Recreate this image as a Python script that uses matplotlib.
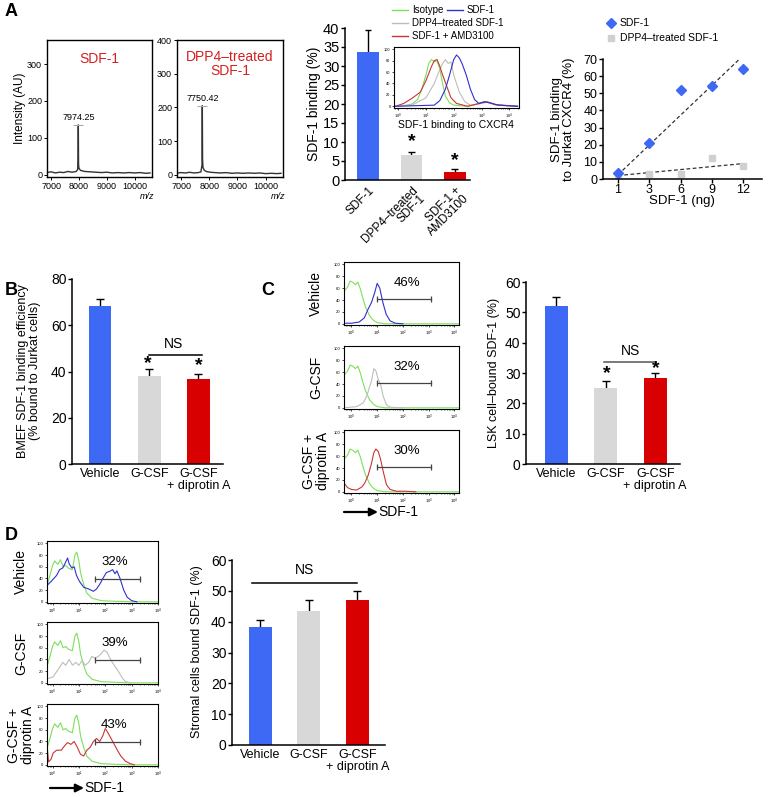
import matplotlib
matplotlib.use('Agg')
import matplotlib.pyplot as plt
import numpy as np

plt.rcParams['font.family'] = ['Liberation Sans', 'DejaVu Sans']

W, H = 768, 797

BLUE = "#3D69F5"
GRAY = "#D8D8D8"
RED = "#D80000"
TXT_RED = "#D42020"
H_GREEN = "#7BE05A"
H_BLUE = "#3030D0"
H_GRAY = "#BDBDBD"
H_RED = "#CC3535"

# ---------------- data ----------------
# A: mass spectra
ms1_mz = [6850, 7000, 7150, 7300, 7450, 7600, 7750, 7900, 7950, 7965, 7974, 7983, 7995,
          8050, 8200, 8400, 8600, 8800, 9000, 9200, 9400, 9600, 9800, 10000, 10200, 10400, 10550]
ms1_int = [6, 8, 5, 7, 6, 9, 7, 9, 14, 40, 135, 30, 18, 12, 9, 8, 7, 6, 7, 5, 6, 5, 6, 5, 6, 4, 5]
ms1_peak = (7974.25, 135)
ms2_mz = [6850, 7000, 7150, 7300, 7450, 7600, 7700, 7740, 7750, 7760, 7775, 7820, 7900,
          8050, 8200, 8400, 8600, 8800, 9000, 9200, 9400, 9600, 9800, 10000, 10200, 10400, 10550]
ms2_int = [6, 7, 6, 8, 6, 7, 9, 30, 205, 45, 22, 14, 10, 8, 7, 6, 7, 5, 6, 5, 6, 5, 6, 4, 5, 4, 5]
ms2_peak = (7750.42, 205)

# A: binding bars
a_labels = ["SDF-1", "DPP4–treated\nSDF-1", "SDF-1 +\nAMD3100"]
a_vals = [33.8, 6.7, 2.0]
a_errs = [39.6, 7.5, 2.8]

# A: inset flow histogram (log10 fluorescence, % of max)
ins_green_x = [-0.1, 0.3, 0.5, 0.7, 0.85, 1.0, 1.1, 1.2, 1.3, 1.4, 1.5, 1.6, 1.7, 1.85, 2.0, 2.5, 2.9, 3.1, 3.3, 3.6, 4.3]
ins_green_y = [0, 2, 4, 12, 30, 55, 75, 82, 78, 80, 65, 40, 18, 6, 2, 0, 4, 8, 6, 2, 0]
ins_red_x = [-0.1, 0.2, 0.5, 0.8, 1.0, 1.2, 1.3, 1.4, 1.5, 1.6, 1.75, 1.9, 2.1, 2.5, 3.0, 3.2, 3.5, 4.3]
ins_red_y = [0, 5, 14, 25, 45, 70, 80, 82, 70, 55, 35, 15, 5, 0, 6, 8, 3, 0]
ins_gray_x = [-0.1, 0.5, 1.0, 1.3, 1.5, 1.6, 1.7, 1.8, 1.9, 2.0, 2.2, 2.4, 2.6, 3.0, 3.2, 3.5, 4.3]
ins_gray_y = [0, 2, 15, 40, 65, 75, 82, 75, 78, 55, 25, 8, 2, 5, 7, 2, 0]
ins_blue_x = [-0.1, 1.3, 1.5, 1.7, 1.85, 2.0, 2.1, 2.2, 2.3, 2.45, 2.6, 2.75, 2.9, 3.1, 3.3, 3.6, 4.3]
ins_blue_y = [0, 2, 10, 30, 55, 82, 90, 85, 75, 55, 30, 12, 5, 8, 6, 2, 0]

# A: dose response
ng_labels = ["1", "3", "6", "9", "12"]
sdf_binding = [3.5, 21, 52, 54, 64]
dpp4_binding = [2.5, 3, 3, 12.5, 7.5]
sdf_fit = [2.5, 72]
dpp4_fit = [2, 9]

# B
grp_labels = ["Vehicle", "G-CSF", "G-CSF\n+ diprotin A"]
b_vals = [68.4, 38.2, 36.6]
b_errs = [71.3, 41.2, 39.0]

# C: LSK histograms
c_green_x = [-0.29, -0.15, -0.05, 0.05, 0.15, 0.25, 0.35, 0.45, 0.55, 0.7, 0.85, 1.0, 1.3, 4.2]
c_green_y = [55, 62, 72, 70, 66, 70, 58, 42, 28, 14, 6, 2, 0, 0]
c_blue_x = [-0.29, 0.0, 0.3, 0.5, 0.65, 0.78, 0.9, 1.0, 1.1, 1.22, 1.35, 1.5, 1.7, 2.0]
c_blue_y = [1, 1, 3, 10, 25, 36, 52, 68, 60, 36, 16, 5, 1, 0]
c_gray_x = [-0.29, 0.2, 0.45, 0.6, 0.7, 0.78, 0.87, 0.95, 1.04, 1.13, 1.23, 1.36, 1.5, 2.0]
c_gray_y = [0, 2, 8, 20, 35, 45, 66, 62, 48, 40, 20, 5, 1, 0]
c_red_x = [-0.29, -0.15, 0.0, 0.2, 0.4, 0.52, 0.65, 0.78, 0.87, 0.95, 1.04, 1.13, 1.23, 1.36, 1.5, 1.75, 2.1, 2.5]
c_red_y = [15, 7, 4, 3, 8, 15, 28, 48, 66, 72, 68, 55, 35, 12, 4, 1, 1, 0]
c_pcts = ["46%", "32%", "30%"]
c_vals = [52.1, 25.2, 28.2]
c_errs = [54.9, 27.5, 29.9]

# D: stromal histograms
d_green_x = [-0.21, -0.1, 0, 0.08, 0.2, 0.3, 0.4, 0.5, 0.62, 0.75, 0.85, 0.92, 1.0, 1.06, 1.18, 1.3, 1.5, 1.85, 2.3, 3.0, 4.0]
d_green_y = [28, 45, 62, 70, 64, 72, 60, 62, 57, 55, 80, 85, 70, 50, 30, 15, 6, 2, 1, 0, 0]
d_blue_x = [-0.21, -0.05, 0.15, 0.27, 0.39, 0.5, 0.57, 0.63, 0.73, 0.82, 0.91, 1.02, 1.18, 1.37, 1.55, 1.67,
            1.79, 1.91, 2.04, 2.16, 2.28, 2.37, 2.44, 2.56, 2.7, 2.83, 3.0, 3.2]
d_blue_y = [28, 35, 45, 55, 58, 68, 75, 65, 58, 60, 45, 35, 25, 22, 18, 22,
            30, 40, 50, 52, 55, 48, 53, 40, 20, 8, 2, 0]
d_gray_x = [-0.21, 0.02, 0.2, 0.39, 0.5, 0.63, 0.76, 0.88, 1.0, 1.12, 1.24, 1.37, 1.49, 1.61, 1.73, 1.85,
            1.95, 2.07, 2.2, 2.34, 2.49, 2.65, 2.77, 2.95]
d_gray_y = [7, 10, 22, 35, 30, 40, 30, 35, 30, 38, 30, 35, 45, 42, 45, 50,
            56, 52, 40, 30, 20, 8, 2, 0]
d_red_x = [-0.21, -0.15, -0.05, 0.02, 0.15, 0.33, 0.45, 0.57, 0.7, 0.82, 0.94, 1.06, 1.18, 1.3, 1.43, 1.55,
           1.67, 1.79, 1.91, 2.0, 2.1, 2.22, 2.34, 2.46, 2.59, 2.77, 2.95, 3.1]
d_red_y = [35, 5, 10, 20, 25, 25, 32, 38, 35, 40, 30, 18, 15, 25, 30, 40,
           45, 40, 50, 62, 55, 45, 35, 25, 15, 6, 2, 0]
d_pcts = ["32%", "39%", "43%"]
d_vals = [38.2, 43.6, 46.9]
d_errs = [40.4, 46.9, 50.1]

row_labels = ["Vehicle", "G-CSF", "G-CSF +\ndiprotin A"]

# ---------------- figure ----------------
fig = plt.figure(figsize=(W / 100, H / 100), dpi=100)
fig.patch.set_facecolor("white")


def px_axes(x0, y0, x1, y1):
    return fig.add_axes([x0 / W, 1 - y1 / H, (x1 - x0) / W, (y1 - y0) / H])


def bar_panel(ax, vals, errs, xlim, ylim, yticks, labels, fs=9, width=0.47):
    x = np.arange(len(vals))
    ax.bar(x, vals, width, color=[BLUE, GRAY, RED], zorder=2)
    ax.vlines(x, vals, errs, color="black", lw=1, zorder=1)
    ax.hlines(errs, x - 0.08, x + 0.08, color="black", lw=1, zorder=3)
    ax.set_xlim(*xlim)
    ax.set_ylim(*ylim)
    ax.set_yticks(yticks)
    ax.set_xticks(x)
    ax.set_xticklabels(labels, fontsize=fs, linespacing=1.0)
    ax.tick_params(axis="x", length=0, pad=3)
    ax.tick_params(axis="y", length=3, width=1, labelsize=10, pad=1)
    for s in ["top", "right"]:
        ax.spines[s].set_visible(False)
    for s in ["left", "bottom"]:
        ax.spines[s].set_linewidth(1.1)
    return x


def hist_panel(ax, curves, xlim, gate, pct):
    for xs, ys, c in curves:
        ax.plot(10 ** np.array(xs), ys, color=c, lw=0.8)
    ax.set_xscale("log")
    ax.set_xlim(10 ** xlim[0], 10 ** xlim[1])
    ax.set_ylim(-2, 104)
    ax.set_yticks([0, 20, 40, 60, 80, 100])
    ax.tick_params(labelsize=3, length=1.5, width=0.5, pad=1)
    ax.tick_params(which="minor", length=1, width=0.4)
    ax.set_xticks([1, 10, 100, 1000, 10000])
    for s in ax.spines.values():
        s.set_linewidth(0.8)
    g0, g1, gy = gate
    ax.plot([10 ** g0, 10 ** g1], [gy, gy], color="#444444", lw=0.9, marker="|", ms=4, mew=0.9)
    ax.text(10 ** pct[0], pct[1], pct[2], fontsize=9.5, ha="center", va="center")


# ---- A: mass spectra ----
for (x0, x1), mz, inten, peak, ylim, yt, title in [
        ((47, 152), ms1_mz, ms1_int, ms1_peak, (-6, 365), [0, 100, 200, 300], "SDF-1"),
        ((177, 283), ms2_mz, ms2_int, ms2_peak, (-6, 400), [0, 100, 200, 300, 400], "DPP4–treated\nSDF-1")]:
    ax = px_axes(x0, 40, x1, 177)
    ax.plot(mz, inten, color="#333333", lw=1.0)
    ax.hlines(peak[1], peak[0] - 180, peak[0] + 180, color="#AAAAAA", lw=0.8)
    ax.text(peak[0], peak[1] + 8, f"{peak[0]:.2f}", fontsize=6.5, ha="center", va="bottom")
    ax.set_xlim(6850, 10620)
    ax.set_ylim(*ylim)
    ax.set_yticks(yt)
    ax.set_xticks([7000, 8000, 9000, 10000])
    ax.tick_params(labelsize=6.5, length=2, width=0.7, pad=1.5)
    for s in ax.spines.values():
        s.set_linewidth(1.0)
    ax.text(0.5, 0.91 if "\n" not in title else 0.925, title, transform=ax.transAxes,
            color=TXT_RED, fontsize=10, ha="center", va="top", linespacing=0.95)

# ---- A: binding bars ----
ax = px_axes(345, 28, 470, 180)
xa = bar_panel(ax, a_vals, a_errs, (-0.53, 2.35), (0, 40), range(0, 41, 5), a_labels, fs=8.5, width=0.5)
ax.set_xticklabels(a_labels, fontsize=8.5, rotation=45, ha="right", rotation_mode="anchor",
                   linespacing=0.95)
ax.tick_params(axis="y", labelsize=10.5)
ax.text(xa[1], 10, "*", ha="center", va="center", fontsize=14, fontweight="bold")
ax.text(xa[2], 5, "*", ha="center", va="center", fontsize=14, fontweight="bold")

# inset histogram
ins = px_axes(394, 47, 519, 108)
for xs, ys, c in [(ins_green_x, ins_green_y, H_GREEN), (ins_gray_x, ins_gray_y, H_GRAY),
                  (ins_red_x, ins_red_y, H_RED), (ins_blue_x, ins_blue_y, H_BLUE)]:
    ins.plot(10 ** np.array(xs), ys, color=c, lw=0.8)
ins.set_xscale("log")
ins.set_xlim(10 ** -0.15, 10 ** 4.35)
ins.set_ylim(-3, 104)
ins.set_yticks([0, 20, 40, 60, 80, 100])
ins.set_xticks([1, 10, 100, 1000, 10000])
ins.tick_params(labelsize=2.8, length=1.5, width=0.5, pad=1)
ins.tick_params(which="minor", length=1, width=0.4)
for s in ins.spines.values():
    s.set_linewidth(0.8)

# ---- A: dose response ----
ax = px_axes(603, 59, 762, 179)
xi = np.arange(len(ng_labels))
ax.plot(xi[[0, -1]], sdf_fit, ls="--", color="#333333", lw=0.9, dashes=(3, 2))
ax.plot(xi[[0, -1]], dpp4_fit, ls="--", color="#333333", lw=0.9, dashes=(3, 2))
ax.plot(xi, dpp4_binding, ls="none", marker="s", ms=5, color="#D0D0D0")
ax.plot(xi, sdf_binding, ls="none", marker="D", ms=5, color=BLUE)
ax.set_xlim(-0.48, 4.6)
ax.set_ylim(0, 70)
ax.set_yticks(range(0, 71, 10))
ax.set_xticks(xi)
ax.set_xticklabels(ng_labels)
ax.tick_params(axis="y", labelsize=9, length=3, width=1, pad=1)
ax.tick_params(axis="x", labelsize=9, length=3, width=1, pad=0.5)
for s in ["top", "right"]:
    ax.spines[s].set_visible(False)
for s in ["left", "bottom"]:
    ax.spines[s].set_linewidth(1.1)

# ---- B ----
ax = px_axes(72, 279, 223, 464)
xb = bar_panel(ax, b_vals, b_errs, (-0.57, 2.5), (0, 80), [0, 20, 40, 60, 80], grp_labels, width=0.46)
ax.plot([xb[1], xb[2] + 0.07], [47, 47], color="black", lw=1.1)
ax.text((xb[1] + xb[2]) / 2, 49, "NS", ha="center", va="bottom", fontsize=10)
ax.text(xb[1] - 0.03, 43.5, "*", ha="center", va="center", fontsize=14, fontweight="bold")
ax.text(xb[2], 42.5, "*", ha="center", va="center", fontsize=14, fontweight="bold")

# ---- C histograms ----
c_tops = [262, 346, 430]
c_second = [(c_blue_x, c_blue_y, H_BLUE), (c_gray_x, c_gray_y, H_GRAY), (c_red_x, c_red_y, H_RED)]
for top, sec, pct in zip(c_tops, c_second, c_pcts):
    ax = px_axes(344, top, 459, top + 63)
    hist_panel(ax, [(c_green_x, c_green_y, H_GREEN), sec], (-0.29, 4.18), (1.0, 3.1, 41),
               (2.14, 68, pct))

# ---- C bars ----
ax = px_axes(526, 282, 680, 464)
xc = bar_panel(ax, c_vals, c_errs, (-0.61, 2.5), (0, 60), range(0, 61, 10), grp_labels, width=0.47)
ax.plot([xc[1] - 0.04, xc[2] + 0.02], [33.7, 33.7], color="#555555", lw=1.1)
ax.text((xc[1] + xc[2]) / 2, 35, "NS", ha="center", va="bottom", fontsize=10)
ax.text(xc[1] + 0.02, 29.8, "*", ha="center", va="center", fontsize=14, fontweight="bold")
ax.text(xc[2] + 0.01, 31.6, "*", ha="center", va="center", fontsize=14, fontweight="bold")

# ---- D histograms ----
d_tops = [541, 622, 704]
d_second = [(d_blue_x, d_blue_y, H_BLUE), (d_gray_x, d_gray_y, H_GRAY), (d_red_x, d_red_y, H_RED)]
for top, sec, pct in zip(d_tops, d_second, d_pcts):
    ax = px_axes(47, top, 158, top + 62)
    hist_panel(ax, [(d_green_x, d_green_y, H_GREEN), sec], (-0.21, 4.0), (1.6, 3.3, 39),
               (2.35, 68, pct))

# ---- D bars ----
ax = px_axes(232, 560, 385, 745)
xd = bar_panel(ax, d_vals, d_errs, (-0.58, 2.57), (0, 60), range(0, 61, 10), grp_labels, width=0.48)
ax.plot([xd[0] - 0.17, xd[2]], [52.7, 52.7], color="black", lw=1.1)
ax.text((xd[0] + xd[2]) / 2 - 0.08, 54.5, "NS", ha="center", va="bottom", fontsize=10)

# ---------------- overlay text in pixel coordinates ----------------
ov = fig.add_axes([0, 0, 1, 1])
ov.set_xlim(0, W)
ov.set_ylim(H, 0)
ov.axis("off")
ov.set_zorder(10)
ov.patch.set_alpha(0)

for lbl, (x, y) in zip("ABCD", [(5, 11), (5, 290), (261, 290), (5, 536)]):
    ov.text(x, y, lbl, fontsize=13, fontweight="bold", va="center", ha="left")

# axis titles
ov.text(20, 108, "Intensity (AU)", rotation=90, fontsize=8.5, ha="center", va="center")
ov.text(147, 196, "m/z", fontstyle="italic", fontsize=6.5, ha="center", va="center")
ov.text(278, 196, "m/z", fontstyle="italic", fontsize=6.5, ha="center", va="center")
ov.text(314, 104, "SDF-1 binding (%)", rotation=90, fontsize=10, ha="center", va="center")
ov.text(456, 125, "SDF-1 binding to CXCR4", fontsize=7.5, ha="center", va="center")
ov.text(563, 119, "SDF-1 binding\nto Jurkat CXCR4 (%)", rotation=90, fontsize=9.5,
        ha="center", va="center", linespacing=1.0)
ov.text(682, 201, "SDF-1 (ng)", fontsize=9.5, ha="center", va="center")
ov.text(29, 371, "BMEF SDF-1 binding efficiency\n(% bound to Jurkat cells)", rotation=90,
        fontsize=9, ha="center", va="center", linespacing=1.05)
ov.text(494, 373, "LSK cell–bound SDF-1 (%)", rotation=90, fontsize=9, ha="center", va="center")
ov.text(197, 652, "Stromal cells bound SDF-1 (%)", rotation=90, fontsize=9, ha="center", va="center")

# A legends
for (x0, y, col, lab) in [(392, 10, H_GREEN, "Isotype"), (447, 10, H_BLUE, "SDF-1"),
                          (392, 23, H_GRAY, "DPP4–treated SDF-1"), (392, 36, H_RED, "SDF-1 + AMD3100")]:
    ov.plot([x0, x0 + 16], [y, y], color=col, lw=1.0)
    ov.text(x0 + 20, y, lab, fontsize=7, va="center", ha="left")
ov.plot([611], [23], marker="D", ms=5, color=BLUE, ls="none")
ov.text(620, 23, "SDF-1", fontsize=7.5, va="center", ha="left")
ov.plot([611], [38], marker="s", ms=5, color="#D0D0D0", ls="none")
ov.text(620, 38, "DPP4–treated SDF-1", fontsize=7.5, va="center", ha="left")

# histogram row labels
for top, lab in zip(c_tops, row_labels):
    ov.text(316, top + 31, lab, rotation=90, fontsize=10, ha="center", va="center", linespacing=1.0)
for top, lab in zip(d_tops, row_labels):
    ov.text(21, top + 31, lab, rotation=90, fontsize=10, ha="center", va="center", linespacing=1.0)

# SDF-1 arrows
for (x0, y) in [(344, 512), (50, 788)]:
    ov.annotate("", xy=(x0 + 34, y), xytext=(x0, y),
                arrowprops=dict(arrowstyle="-|>", color="black", lw=1.6, mutation_scale=12,
                                shrinkA=0, shrinkB=0))
    ov.text(x0 + 34, y + 0.5, "SDF-1", fontsize=10, va="center", ha="left")

fig.savefig("out.png", dpi=100, facecolor="white")
